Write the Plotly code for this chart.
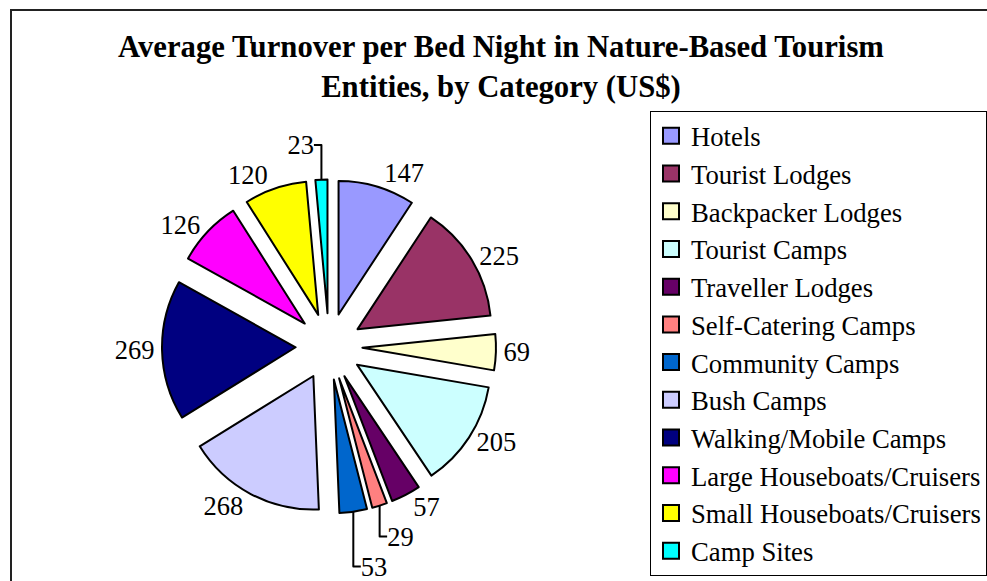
import plotly.graph_objects as go

categories = ["Hotels", "Tourist Lodges", "Backpacker Lodges", "Tourist Camps",
              "Traveller Lodges", "Self-Catering Camps", "Community Camps",
              "Bush Camps", "Walking/Mobile Camps", "Large Houseboats/Cruisers",
              "Small Houseboats/Cruisers", "Camp Sites"]
values = [147, 225, 69, 205, 57, 29, 53, 268, 269, 126, 120, 23]
colors = ["#9999FF", "#993366", "#FFFFCC", "#CCFFFF", "#660066", "#FF8080",
          "#0066CC", "#CCCCFF", "#000080", "#FF00FF", "#FFFF00", "#00FFFF"]

W, H = 987, 581
FONT = "Liberation Serif, Times New Roman, serif"

# pie geometry (figure pixels)
CX, CY, HALF = 329, 346.5, 167

fig = go.Figure()
fig.add_trace(go.Pie(
    labels=categories,
    values=values,
    sort=False,
    direction="clockwise",
    rotation=0,
    pull=[0.25] * len(values),
    marker=dict(colors=colors, line=dict(color="black", width=2)),
    textinfo="value",
    textposition="outside",
    outsidetextfont=dict(family=FONT, size=26.5, color="black"),
    domain=dict(x=[(CX - HALF) / W, (CX + HALF) / W],
                y=[1 - (CY + HALF) / H, 1 - (CY - HALF) / H]),
    hoverinfo="label+value",
    showlegend=False,
))
for name, col in zip(categories, colors):
    fig.add_trace(go.Scatter(
        x=[None], y=[None], mode="markers", name=name,
        marker=dict(symbol="square", size=16, color=col,
                    line=dict(color="black", width=2)),
    ))

fig.update_layout(
    width=W, height=H,
    margin=dict(l=0, r=0, t=0, b=0, autoexpand=False),
    paper_bgcolor="white",
    plot_bgcolor="white",
    font=dict(family=FONT, color="black"),
    xaxis=dict(visible=False),
    yaxis=dict(visible=False),
    title=dict(
        text="Average Turnover per Bed Night in Nature-Based Tourism<br>Entities, by Category (US$)",
        font=dict(family=FONT, size=30.7, color="black", weight="bold"),
        x=501 / W, xanchor="center",
        y=1 - 57 / H, yanchor="top",
    ),
    legend=dict(
        x=650 / W, xanchor="left",
        y=1 - 111 / H, yanchor="top",
        font=dict(family=FONT, size=26.7, color="black"),
        bgcolor="white",
        bordercolor="black",
        borderwidth=1,
        tracegroupgap=0,
    ),
    shapes=[dict(
        type="rect", xref="paper", yref="paper",
        x0=11 / W, x1=1.05, y0=-0.05, y1=1 - 10 / H,
        line=dict(color="#222222", width=2),
        layer="below",
    )],
)

fig.write_html(
    "out.html",
    config={"displayModeBar": False},
    post_script="document.body.style.margin='0';document.body.style.overflow='hidden';",
)
